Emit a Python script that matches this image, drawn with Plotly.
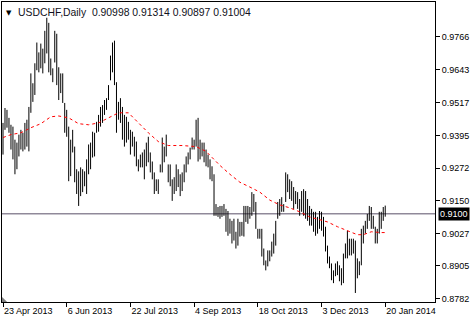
import plotly.graph_objects as go
import pandas as pd

# ---- data ----
start_date = "2013-04-23"
end_date = "2014-01-20"
holidays = ["2013-12-25", "2014-01-01"]
dates = [d.strftime("%Y-%m-%d") for d in pd.bdate_range(start_date, end_date)
         if d.strftime("%Y-%m-%d") not in holidays]

highs = [
    .9442, .9498, .9491, .9461, .9435, .9428, .9379, .9368, .9398, .9416,
    .9405, .9442, .9454, .9502, .9628, .9591, .9666, .9744, .9707, .9740,
    .9721, .9788, .9837, .9818, .9684, .9647, .9788, .9777, .9651, .9628,
    .9628, .9517, .9491, .9428, .9379, .9416, .9353, .9268, .9260, .9275,
    .9268, .9260, .9305, .9361, .9368, .9409, .9405, .9446, .9472, .9502,
    .9509, .9528, .9535, .9584, .9695, .9744, .9751, .9595, .9521, .9535,
    .9502, .9472, .9465, .9446, .9416, .9409, .9390, .9372, .9305, .9323,
    .9331, .9342, .9368, .9390, .9331, .9297, .9256, .9230, .9230, .9286,
    .9387, .9353, .9398, .9286, .9286, .9230, .9238, .9286, .9268, .9249,
    .9256, .9286, .9316, .9331, .9349, .9387, .9379, .9454, .9461, .9379,
    .9368, .9368, .9342, .9323, .9305, .9279, .9249, .9137, .9126, .9130,
    .9130, .9137, .9119, .9111, .9082, .9074, .9082, .9033, .9082, .9070,
    .9070, .9130, .9130, .9130, .9126, .9182, .9175, .9145, .9044, .9044,
    .9044, .8970, .8925, .8963, .8963, .8996, .9026, .9074, .9145, .9156,
    .9163, .9137, .9256, .9249, .9230, .9223, .9201, .9186, .9182, .9156,
    .9186, .9193, .9186, .9156, .9130, .9119, .9108, .9108, .9089, .9111,
    .9108, .9089, .9052, .8981, .8940, .8914, .8888, .8914, .8922, .8907,
    .8896, .8951, .8989, .9037, .9007, .9007, .9007, .9000, .8933, .8922,
    .9044, .9056, .9074, .9100, .9130, .9126, .9093, .9052, .9044, .9108,
    .9108, .9126, .91314,
]
lows = [
    .9323, .9416, .9424, .9405, .9342, .9305, .9249, .9268, .9316, .9342,
    .9335, .9342, .9353, .9335, .9480, .9521, .9547, .9640, .9632, .9647,
    .9628, .9666, .9703, .9632, .9621, .9595, .9669, .9584, .9528, .9554,
    .9517, .9405, .9390, .9223, .9242, .9331, .9219, .9175, .9130, .9167,
    .9182, .9204, .9175, .9249, .9268, .9312, .9316, .9405, .9409, .9428,
    .9442, .9472, .9491, .9528, .9602, .9632, .9584, .9405, .9454, .9442,
    .9379, .9353, .9368, .9379, .9323, .9353, .9316, .9279, .9260, .9275,
    .9275, .9230, .9279, .9294, .9256, .9230, .9175, .9186, .9175, .9256,
    .9256, .9294, .9316, .9219, .9204, .9149, .9175, .9186, .9201, .9167,
    .9186, .9219, .9256, .9286, .9305, .9342, .9342, .9353, .9297, .9305,
    .9316, .9294, .9279, .9275, .9230, .9223, .9093, .9093, .9089, .9082,
    .9089, .9093, .9033, .9018, .9026, .8989, .9000, .8970, .8981, .9015,
    .9018, .9015, .9070, .9063, .9082, .9093, .9108, .9044, .9007, .9007,
    .8940, .8907, .8888, .8903, .8922, .8940, .8951, .8981, .9082, .9093,
    .9108, .9108, .9145, .9182, .9156, .9149, .9119, .9137, .9119, .9093,
    .9108, .9093, .9082, .9074, .9056, .9056, .9033, .9018, .9026, .9044,
    .9037, .9015, .8959, .8914, .8896, .8851, .8840, .8866, .8870, .8847,
    .8832, .8840, .8933, .8933, .8944, .8944, .8951, .8803, .8858, .8870,
    .8907, .8989, .9026, .9044, .9074, .9044, .9044, .8989, .8989, .9026,
    .9044, .9074, .90897,
]

ma_idx = [0, 4, 9, 14, 19, 24, 28, 33, 38, 43, 48, 53, 58, 63, 68, 73, 78, 83, 90, 97,
          102, 107, 109, 114, 119, 124, 129, 134, 139, 144, 149, 154, 161, 163, 168,
          173, 178, 181, 185, 190, 192]
ma_vals = [.9387, .9398, .9405, .9424, .9439, .9465, .9468, .9461, .9439, .9435,
           .9442, .9461, .9480, .9480, .9442, .9405, .9372, .9357, .9357, .9353,
           .9335, .9297, .9282, .9249, .9219, .9201, .9182, .9152, .9134, .9123,
           .9108, .9089, .9074, .9070, .9052, .9037, .9022, .9022, .9033, .9030, .9030]

last_ohlc = [0.90998, 0.91314, 0.90897, 0.91004]
bid = last_ohlc[3]

x_tick_dates = ["2013-04-23", "2013-06-06", "2013-07-22", "2013-09-04",
                "2013-10-18", "2013-12-03", "2014-01-20"]
x_tick_text = ["23 Apr 2013", "6 Jun 2013", "22 Jul 2013", "4 Sep 2013",
               "18 Oct 2013", "3 Dec 2013", "20 Jan 2014"]
y_tick_vals = [0.9766, 0.9643, 0.9517, 0.9395, 0.9272, 0.9150, 0.9027, 0.8905, 0.8782]
y_tick_text = ["0.9766", "0.9643", "0.9517", "0.9395", "0.9272", "0.9150",
               "0.9027", "0.8905", "0.8782"]

# ---- figure ----
xs, ys = [], []
for d, h, l in zip(dates, highs, lows):
    xs += [d, d, None]
    ys += [l, h, None]

FONT = "Liberation Sans, Arial, sans-serif"

fig = go.Figure()
fig.add_trace(go.Scatter(x=xs, y=ys, mode="lines", connectgaps=False,
                         line=dict(color="black", width=1), hoverinfo="skip",
                         showlegend=False))
fig.add_trace(go.Scatter(x=[dates[i] for i in ma_idx], y=ma_vals, mode="lines",
                         line=dict(color="#ff0000", width=1, dash="3px,3px"),
                         hoverinfo="skip", showlegend=False))

fig.add_shape(type="line", xref="paper", yref="y", x0=0, x1=1, y0=bid, y1=bid,
              line=dict(color="#5a5068", width=1), layer="below")
# small grey corner marker
fig.add_shape(type="path", xref="paper", yref="paper",
              path="M 0,0 L 0,0.017 L 0.012,0 Z",
              fillcolor="#808080", line=dict(width=0))

fig.add_annotation(text="0.9100", xref="paper", yref="y", x=1, y=bid,
                   xanchor="left", yanchor="middle", xshift=3, showarrow=False,
                   bgcolor="black", font=dict(color="white", size=9, family=FONT),
                   borderpad=1)
fig.add_annotation(text="▼", xref="paper", yref="paper", x=0, y=1,
                   xanchor="left", yanchor="top", xshift=2, yshift=-5,
                   showarrow=False, font=dict(color="black", size=7, family="DejaVu Sans"))
fig.add_annotation(text="USDCHF,Daily  %.5f %.5f %.5f %.5f" % tuple(last_ohlc),
                   xref="paper", yref="paper", x=0, y=1,
                   xanchor="left", yanchor="top", xshift=14, yshift=-3,
                   showarrow=False, font=dict(color="#101020", size=10.4, family=FONT))

fig.update_layout(
    width=470, height=317, autosize=False,
    margin=dict(l=1, r=34, t=1, b=13, pad=0),
    paper_bgcolor="white", plot_bgcolor="white",
    font=dict(family=FONT, size=9, color="black"),
    xaxis=dict(type="category", range=[-0.5, 217.0], showgrid=False, zeroline=False,
               showline=True, linecolor="black", linewidth=1, mirror=True,
               ticks="outside", ticklen=4, tickcolor="black",
               tickvals=x_tick_dates, ticktext=x_tick_text,
               ticklabelposition="outside right", tickfont=dict(size=9)),
    yaxis=dict(range=[0.876912, 0.989628], side="right", showgrid=False,
               zeroline=False, showline=True, linecolor="black", linewidth=1,
               mirror=True, ticks="outside", ticklen=4, tickcolor="black",
               tickvals=y_tick_vals, ticktext=y_tick_text, tickfont=dict(size=9)),
)

fig.write_html("out.html", config={"displayModeBar": False})
